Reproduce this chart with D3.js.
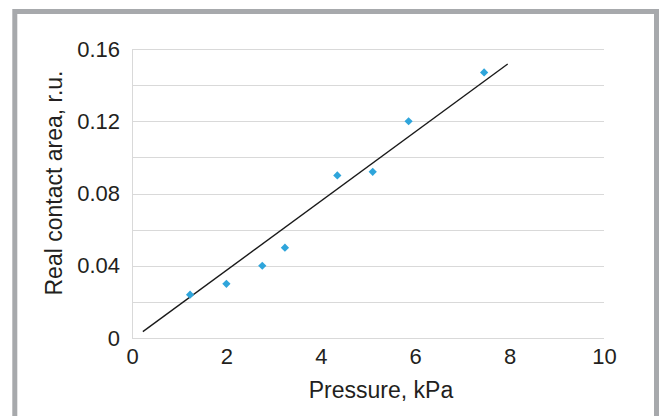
<!DOCTYPE html>
<html>
<head>
<meta charset="utf-8">
<script src="https://cdn.jsdelivr.net/npm/d3@7"></script>
<style>
  html, body { margin: 0; padding: 0; background: #ffffff; }
  svg { display: block; }
  text { font-family: "Liberation Sans", Arial, Helvetica, sans-serif; fill: #231f20; }
</style>
</head>
<body>
<script>
// ---- data ----
const pressure = [1.23, 2.0, 2.76, 3.24, 4.35, 5.1, 5.86, 7.46];
const contactArea = [0.024, 0.030, 0.040, 0.050, 0.090, 0.092, 0.120, 0.147];
const trendX = [0.23, 7.96];
const trendY = [0.0035, 0.1517];
const xTicks = [0, 2, 4, 6, 8, 10];
const yTicks = [0, 0.04, 0.08, 0.12, 0.16];
const yGrid = [0, 0.02, 0.04, 0.06, 0.08, 0.10, 0.12, 0.14, 0.16];
const yTickLabels = ["0", "0.04", "0.08", "0.12", "0.16"];
const xTitle = "Pressure, kPa";
const yTitle = "Real contact area, r.u.";

// ---- layout ----
const W = 659, H = 416;
const plot = { left: 132, right: 604, top: 49, bottom: 338 };

const svg = d3.select("body").append("svg").attr("width", W).attr("height", H);

// outer frame
svg.append("rect")
  .attr("x", 14.8).attr("y", 11.5)
  .attr("width", 641.7).attr("height", 420)
  .attr("fill", "#ffffff")
  .attr("stroke", "#a7a9ac").attr("stroke-width", 5);

const x = d3.scaleLinear().domain([0, 10]).range([plot.left, plot.right]);
const y = d3.scaleLinear().domain([0, 0.16]).range([plot.bottom, plot.top]);

// grid lines
svg.append("g").selectAll("line").data(yGrid).join("line")
  .attr("x1", plot.left).attr("x2", plot.right)
  .attr("y1", d => Math.round(y(d)) + 0.5).attr("y2", d => Math.round(y(d)) + 0.5)
  .attr("stroke", "#d9d9d9").attr("stroke-width", 1);

// left axis line
svg.append("line")
  .attr("x1", plot.left + 0.5).attr("x2", plot.left + 0.5)
  .attr("y1", plot.top).attr("y2", plot.bottom)
  .attr("stroke", "#d9d9d9").attr("stroke-width", 1);

// y axis labels
const yAxis = d3.axisLeft(y).tickValues(yTicks)
  .tickFormat((d, i) => yTickLabels[i]).tickSize(0).tickPadding(12);
const gy = svg.append("g").attr("transform", `translate(${plot.left},0)`).call(yAxis);
gy.select(".domain").remove();
gy.selectAll("text").style("font-size", "22px")
  .style("font-family", "'Liberation Sans', Arial, sans-serif").attr("fill", "#231f20");

// x axis labels
const xAxis = d3.axisBottom(x).tickValues(xTicks).tickFormat(d3.format("d"))
  .tickSize(0).tickPadding(10);
const gx = svg.append("g").attr("transform", `translate(0,${plot.bottom})`).call(xAxis);
gx.select(".domain").remove();
gx.selectAll("text").style("font-size", "22px")
  .style("font-family", "'Liberation Sans', Arial, sans-serif").attr("fill", "#231f20");

// trend line
const line = d3.line().x(d => x(d[0])).y(d => y(d[1]));
svg.append("path")
  .datum(trendX.map((v, i) => [v, trendY[i]]))
  .attr("d", line)
  .attr("fill", "none").attr("stroke", "#1a1a1a").attr("stroke-width", 1.4);

// points (diamonds)
const diamond = d3.symbol().type(d3.symbolSquare).size(34);
svg.append("g").selectAll("path").data(pressure.map((v, i) => [v, contactArea[i]])).join("path")
  .attr("d", diamond)
  .attr("transform", d => `translate(${x(d[0])},${y(d[1])}) rotate(45)`)
  .attr("fill", "#2fa5db");

// axis titles
svg.append("text")
  .attr("x", 381).attr("y", 398)
  .attr("text-anchor", "middle")
  .style("font-size", "23px")
  .text(xTitle);

svg.append("text")
  .attr("transform", "translate(62,183) rotate(-90)")
  .attr("text-anchor", "middle")
  .style("font-size", "23px")
  .text(yTitle);
</script>
</body>
</html>
